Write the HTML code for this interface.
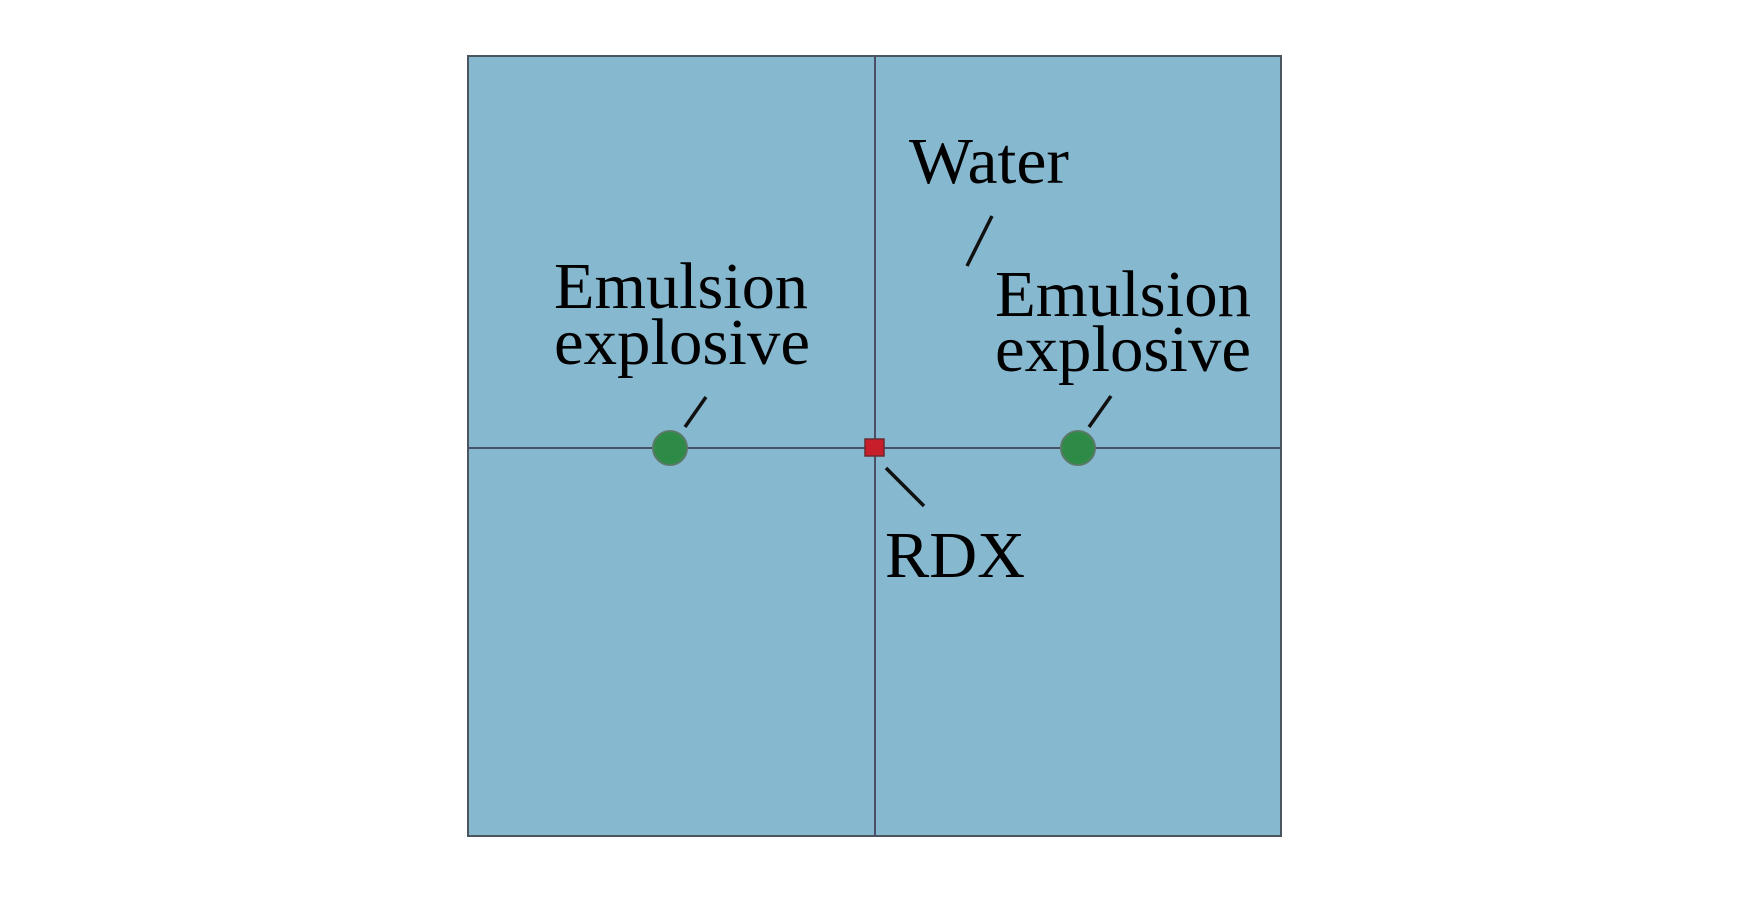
<!DOCTYPE html>
<html><head><meta charset="utf-8"><style>html,body{margin:0;padding:0;background:#fff}svg{display:block}</style></head>
<body>
<svg width="1748" height="909" viewBox="0 0 1748 909" xmlns="http://www.w3.org/2000/svg">
<rect x="0" y="0" width="1748" height="909" fill="#fff"/>
<rect x="468" y="56" width="813" height="780" fill="#86b8cf" stroke="#4a5560" stroke-width="2"/>
<line x1="875" y1="56" x2="875" y2="836" stroke="#4a5068" stroke-width="2"/>
<line x1="468" y1="448" x2="1281" y2="448" stroke="#4a5068" stroke-width="2"/>
<circle cx="670" cy="448" r="17" fill="#2e8b47" stroke="#5a7a68" stroke-width="2"/>
<circle cx="1078" cy="448" r="17" fill="#2e8b47" stroke="#5a7a68" stroke-width="2"/>
<rect x="865" y="439" width="19" height="17" fill="#c81e2a" stroke="#6a2a30" stroke-width="1.5"/>
<g stroke="#111" stroke-width="3.5">
<line x1="992" y1="216" x2="967" y2="266"/>
<line x1="706" y1="397" x2="685" y2="427"/>
<line x1="1111" y1="396" x2="1089" y2="427"/>
<line x1="886" y1="468" x2="924" y2="506"/>
</g>
<g font-family="'Liberation Serif',serif" font-size="66" fill="#000">
<text x="909" y="183" textLength="160" lengthAdjust="spacingAndGlyphs">Water</text>
<text x="554" y="308" textLength="254" lengthAdjust="spacingAndGlyphs">Emulsion</text>
<text x="554" y="364" textLength="256" lengthAdjust="spacingAndGlyphs">explosive</text>
<text x="995" y="316" textLength="256" lengthAdjust="spacingAndGlyphs">Emulsion</text>
<text x="995" y="371" textLength="256" lengthAdjust="spacingAndGlyphs">explosive</text>
<text x="885" y="577" textLength="140" lengthAdjust="spacingAndGlyphs">RDX</text>
</g>
</svg>
</body></html>
